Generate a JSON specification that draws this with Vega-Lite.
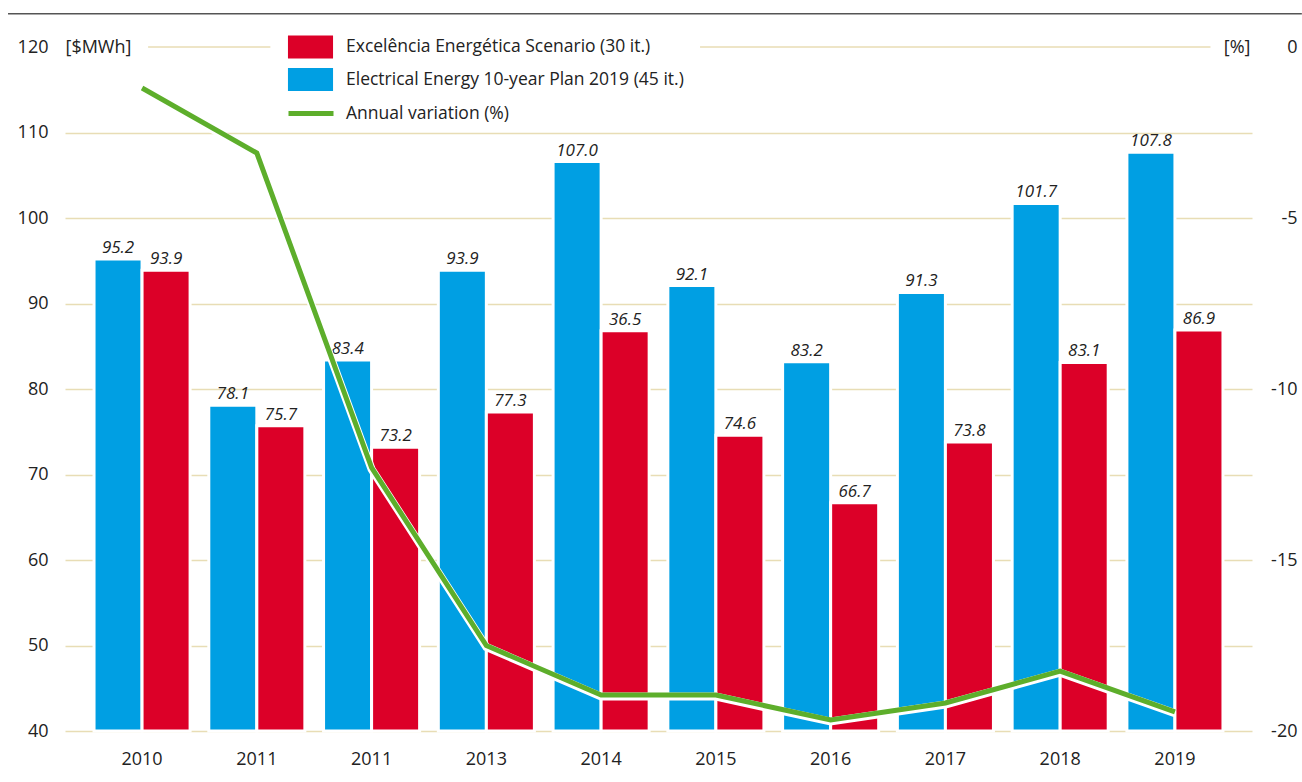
{
  "$schema": "https://vega.github.io/schema/vega-lite/v6.json",
  "width": 1187,
  "height": 684,
  "autosize": {"type": "none"},
  "padding": {"left": 65, "top": 47, "right": 50, "bottom": 51},
  "background": "white",
  "config": {
    "view": {"stroke": null},
    "font": "Open Sans",
    "axis": {"labelFont": "Open Sans", "titleFont": "Open Sans", "labelColor": "#222", "titleColor": "#222"},
    "legend": {"labelFont": "Open Sans"}
  },
  "datasets": {
    "bars": [
      {"cat": "2010", "series": "Electrical Energy 10-year Plan 2019 (45 it.)", "value": 95.2, "label": "95.2"},
      {"cat": "2010", "series": "Excelência Energética Scenario (30 it.)", "value": 93.9, "label": "93.9"},
      {"cat": "2011", "series": "Electrical Energy 10-year Plan 2019 (45 it.)", "value": 78.1, "label": "78.1"},
      {"cat": "2011", "series": "Excelência Energética Scenario (30 it.)", "value": 75.7, "label": "75.7"},
      {"cat": "2011b", "series": "Electrical Energy 10-year Plan 2019 (45 it.)", "value": 83.4, "label": "83.4"},
      {"cat": "2011b", "series": "Excelência Energética Scenario (30 it.)", "value": 73.2, "label": "73.2"},
      {"cat": "2013", "series": "Electrical Energy 10-year Plan 2019 (45 it.)", "value": 93.9, "label": "93.9"},
      {"cat": "2013", "series": "Excelência Energética Scenario (30 it.)", "value": 77.3, "label": "77.3"},
      {"cat": "2014", "series": "Electrical Energy 10-year Plan 2019 (45 it.)", "value": 106.6, "label": "107.0"},
      {"cat": "2014", "series": "Excelência Energética Scenario (30 it.)", "value": 86.8, "label": "36.5"},
      {"cat": "2015", "series": "Electrical Energy 10-year Plan 2019 (45 it.)", "value": 92.1, "label": "92.1"},
      {"cat": "2015", "series": "Excelência Energética Scenario (30 it.)", "value": 74.6, "label": "74.6"},
      {"cat": "2016", "series": "Electrical Energy 10-year Plan 2019 (45 it.)", "value": 83.2, "label": "83.2"},
      {"cat": "2016", "series": "Excelência Energética Scenario (30 it.)", "value": 66.7, "label": "66.7"},
      {"cat": "2017", "series": "Electrical Energy 10-year Plan 2019 (45 it.)", "value": 91.3, "label": "91.3"},
      {"cat": "2017", "series": "Excelência Energética Scenario (30 it.)", "value": 73.8, "label": "73.8"},
      {"cat": "2018", "series": "Electrical Energy 10-year Plan 2019 (45 it.)", "value": 101.7, "label": "101.7"},
      {"cat": "2018", "series": "Excelência Energética Scenario (30 it.)", "value": 83.1, "label": "83.1"},
      {"cat": "2019", "series": "Electrical Energy 10-year Plan 2019 (45 it.)", "value": 107.7, "label": "107.8"},
      {"cat": "2019", "series": "Excelência Energética Scenario (30 it.)", "value": 86.9, "label": "86.9"}
    ],
    "variation": [
      {"cat": "2010", "var": -1.2},
      {"cat": "2011", "var": -3.1},
      {"cat": "2011b", "var": -12.3},
      {"cat": "2013", "var": -17.5},
      {"cat": "2014", "var": -18.95},
      {"cat": "2015", "var": -18.95},
      {"cat": "2016", "var": -19.68},
      {"cat": "2017", "var": -19.18},
      {"cat": "2018", "var": -18.25},
      {"cat": "2019", "var": -19.44}
    ]
  },
  "layer": [
    {
      "data": {"values": [{}]},
      "layer": [
        {
          "mark": {"type": "rule", "color": "#e8ddb5", "strokeWidth": 1.5},
          "encoding": {
            "x": {"datum": 0.07, "type": "quantitative", "scale": {"domain": [0, 1]}, "axis": null},
            "x2": {"datum": 0.173},
            "y": {"datum": 120, "type": "quantitative", "scale": {"domain": [40, 120]}, "axis": null}
          }
        },
        {
          "mark": {"type": "rule", "color": "#e8ddb5", "strokeWidth": 1.5},
          "encoding": {
            "x": {"datum": 0.535, "type": "quantitative"},
            "x2": {"datum": 0.965},
            "y": {"datum": 120, "type": "quantitative"}
          }
        },
        {
          "mark": {"type": "rule", "color": "#555", "strokeWidth": 1.5},
          "encoding": {
            "x": {"datum": -0.048, "type": "quantitative"},
            "x2": {"datum": 1.042},
            "y": {"datum": 123.9, "type": "quantitative"}
          }
        }
      ]
    },
    {
      "data": {"name": "bars"},
      "layer": [
        {
          "mark": {"type": "bar", "stroke": "white", "strokeWidth": 3},
          "encoding": {
            "x": {
              "field": "cat", "type": "nominal",
              "sort": ["2010", "2011", "2011b", "2013", "2014", "2015", "2016", "2017", "2018", "2019"],
              "scale": {"type": "band", "paddingInner": 0.163, "paddingOuter": 0.253},
              "axis": {
                "orient": "bottom",
                "title": null, "domain": false, "ticks": false, "labelAngle": 0,
                "labelFontSize": 18, "labelPadding": 19,
                "labelExpr": "substring(datum.label, 0, 4)"
              }
            },
            "xOffset": {
              "field": "series", "type": "nominal",
              "scale": {"domain": ["Electrical Energy 10-year Plan 2019 (45 it.)", "Excelência Energética Scenario (30 it.)"], "paddingInner": 0, "paddingOuter": 0}
            },
            "y": {
              "field": "value", "type": "quantitative",
              "scale": {"domain": [40, 120], "nice": false, "zero": false},
              "axis": {
                "orient": "left",
                "values": [40, 50, 60, 70, 80, 90, 100, 110, 120],
                "domain": false, "ticks": false,
                "labelFontSize": 18, "labelPadding": 17,
                "grid": true,
                "gridColor": {"condition": {"test": "datum.value === 120", "value": "transparent"}, "value": "#e8ddb5"},
                "gridWidth": 1.5,
                "title": "[$MWh]", "titleAngle": 0, "titleX": 0, "titleY": 0,
                "titleAlign": "left", "titleBaseline": "middle",
                "titleFontSize": 18, "titleFontWeight": "normal"
              }
            },
            "y2": {"datum": 40},
            "color": {
              "field": "series", "type": "nominal",
              "scale": {
                "domain": ["Excelência Energética Scenario (30 it.)", "Electrical Energy 10-year Plan 2019 (45 it.)"],
                "range": ["#dc0028", "#009fe3"]
              },
              "legend": {
                "orient": "none", "legendX": 234, "legendY": -11.5,
                "title": null, "padding": 0,
                "symbolType": "M-1.96,-1H1.96V1H-1.96Z",
                "symbolSize": 529, "symbolStrokeWidth": 0,
                "labelFontSize": 17.5, "labelColor": "#222", "labelOffset": 24, "labelLimit": 0,
                "rowPadding": 9.5
              }
            }
          }
        },
        {
          "mark": {"type": "text", "fontStyle": "italic", "fontSize": 17, "color": "#222", "baseline": "alphabetic", "dy": -6},
          "encoding": {
            "x": {"field": "cat", "type": "nominal", "sort": ["2010", "2011", "2011b", "2013", "2014", "2015", "2016", "2017", "2018", "2019"]},
            "xOffset": {"field": "series", "type": "nominal"},
            "y": {"field": "value", "type": "quantitative"},
            "text": {"field": "label"}
          }
        }
      ]
    },
    {
      "data": {"name": "variation"},
      "encoding": {
        "x": {
          "field": "cat", "type": "nominal",
          "sort": ["2010", "2011", "2011b", "2013", "2014", "2015", "2016", "2017", "2018", "2019"],
          "scale": {"type": "band", "paddingInner": 0.163, "paddingOuter": 0.253},
          "axis": null
        },
        "y": {
          "field": "var", "type": "quantitative",
          "scale": {"domain": [-20, 0], "nice": false, "zero": false},
          "axis": {
            "orient": "right",
            "values": [0, -5, -10, -15, -20],
            "labelExpr": "'' + datum.value",
            "grid": false, "domain": false, "ticks": false,
            "labelFontSize": 18, "labelAlign": "right", "labelPadding": 45,
            "title": "[%]", "titleAngle": 0, "titleX": -2, "titleY": 0,
            "titleAlign": "right", "titleBaseline": "middle",
            "titleFontSize": 18, "titleFontWeight": "normal"
          }
        }
      },
      "layer": [
        {"mark": {"type": "line", "color": "white", "strokeWidth": 8, "yOffset": 1.5}},
        {
          "mark": {"type": "line", "strokeWidth": 5},
          "encoding": {
            "color": {
              "datum": "Annual variation (%)", "type": "nominal",
              "scale": {"domain": ["Annual variation (%)"], "range": ["#5dae2b"]},
              "legend": {
                "orient": "none", "legendX": 221, "legendY": 41.5,
                "title": null, "padding": 0,
                "symbolType": "stroke", "symbolSize": 2025, "symbolStrokeWidth": 5,
                "labelFontSize": 17.5, "labelColor": "#222", "labelOffset": 10, "labelLimit": 0
              }
            }
          }
        }
      ]
    }
  ],
  "resolve": {"scale": {"x": "independent", "y": "independent", "color": "independent", "xOffset": "independent"}}
}
